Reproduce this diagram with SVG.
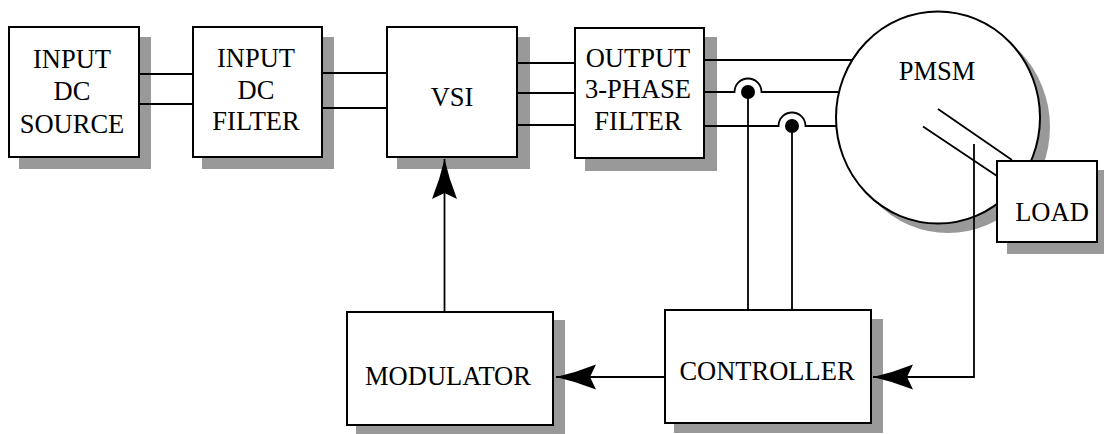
<svg xmlns="http://www.w3.org/2000/svg" width="1104" height="434" viewBox="0 0 1104 434">
<style>
.sh{fill:#999999;stroke:none}
.bx{fill:#ffffff;stroke:#000000;stroke-width:2}
.t{font-family:"Liberation Serif","Times New Roman",serif;font-size:26.5px;fill:#000000;text-anchor:middle}
.ln{fill:none;stroke:#000000;stroke-width:1.8}
</style>
<defs>
<marker id="ah" markerUnits="userSpaceOnUse" markerWidth="40" markerHeight="26" viewBox="0 0 40 26" refX="40" refY="13" orient="auto">
<path d="M40 13 Q20 8.5 0 0.5 L6 13 L0 25.5 Q20 17.5 40 13 Z" fill="#000000"/>
</marker>
</defs>
<rect width="1104" height="434" fill="#ffffff"/>
<g id="input-dc-source">
<rect class="sh" x="19" y="37" width="132" height="132"/>
<rect class="bx" x="9" y="27" width="130" height="130"/>
<text class="t" x="72" y="68">INPUT</text>
<text class="t" x="72" y="100">DC</text>
<text class="t" x="72" y="132.5">SOURCE</text>
</g>
<g id="input-dc-filter">
<rect class="sh" x="202" y="37" width="132" height="132"/>
<rect class="bx" x="193" y="27" width="129" height="130"/>
<text class="t" x="256" y="66.5">INPUT</text>
<text class="t" x="256" y="98.5">DC</text>
<text class="t" x="256" y="130">FILTER</text>
</g>
<g id="vsi">
<rect class="sh" x="397" y="37" width="133" height="132"/>
<rect class="bx" x="387" y="27" width="130" height="130"/>
<text class="t" x="452" y="105.5">VSI</text>
</g>
<g id="output-filter">
<rect class="sh" x="585" y="37" width="132" height="134"/>
<rect class="bx" x="575" y="28" width="129" height="130"/>
<text class="t" x="638" y="66.5">OUTPUT</text>
<text class="t" x="638" y="98">3-PHASE</text>
<text class="t" x="638" y="130">FILTER</text>
</g>
<g id="pmsm">
<ellipse class="sh" cx="948" cy="127" rx="102" ry="106"/>
<ellipse class="bx" cx="938" cy="117.5" rx="102" ry="106"/>
<text class="t" x="937" y="79.5">PMSM</text>
</g>
<g id="load">
<rect class="sh" x="1007" y="170" width="97" height="84"/>
<rect class="bx" x="997" y="161" width="100" height="81"/>
<text class="t" x="1052" y="221">LOAD</text>
</g>
<g id="modulator">
<rect class="sh" x="356" y="320" width="209" height="114"/>
<rect class="bx" x="347" y="312" width="206" height="113"/>
<text class="t" x="448" y="385">MODULATOR</text>
</g>
<g id="controller">
<rect class="sh" x="674" y="319" width="209" height="114"/>
<rect class="bx" x="665" y="310" width="206" height="113"/>
<text class="t" x="767" y="380">CONTROLLER</text>
</g>
<g id="connectors">
<path class="ln" d="M139 74 H193 M139 104 H193"/>
<path class="ln" d="M322 73 H387 M322 108 H387"/>
<path class="ln" d="M517 63 H575 M517 93 H575 M517 125 H575"/>
<path class="ln" d="M704 60 H853"/>
<path class="ln" d="M704 92 H734.5 A13.5 13.5 0 0 1 761.5 92 H839"/>
<path class="ln" d="M704 126 H778.5 A13.5 13.5 0 0 1 805.5 126 H837"/>
<circle cx="748" cy="92" r="7" fill="#000000"/>
<circle cx="792" cy="126" r="7" fill="#000000"/>
<path class="ln" d="M748 92 V310 M792 126 V310"/>
<path class="ln" d="M938 109 L1012 160 M923 126.5 L997 176"/>
<path class="ln" d="M974 144 V377 H873" marker-end="url(#ah)"/>
<path class="ln" d="M665 377 H556" marker-end="url(#ah)"/>
<path class="ln" d="M444.5 312 V159" marker-end="url(#ah)"/>
</g>
</svg>
